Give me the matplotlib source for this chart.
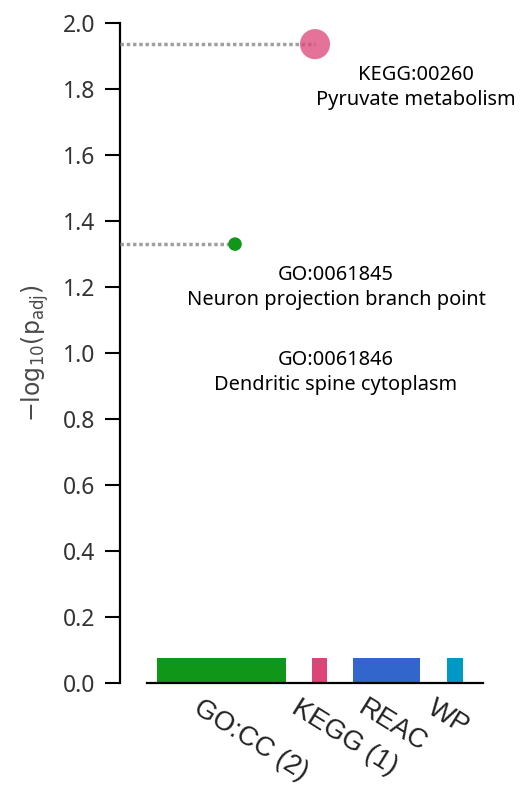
import matplotlib
matplotlib.use('Agg')
import matplotlib.pyplot as plt

# Источники и их полосы на оси X (позиции терминов)
sources = ['GO:CC', 'KEGG', 'REAC', 'WP']
source_labels = ['GO:CC (2)', 'KEGG (1)', 'REAC', 'WP']
source_colors = ['#109618', '#dd4477', '#3366cc', '#0099c6']
band_start = [10, 165, 206, 300]
band_end = [139, 180, 273, 316]
axis_end = 336
band_height = 0.076

# Значимые термины
term_ids = ['KEGG:00260', 'GO:0061845', 'GO:0061846']
term_names = ['Pyruvate metabolism', 'Neuron projection branch point', 'Dendritic spine cytoplasm']
term_source = ['KEGG', 'GO:CC', 'GO:CC']
term_x = [168, 88, 88]
term_y = [1.936, 1.33, 1.33]
term_size = [470, 95, 95]

fig = plt.figure(figsize=(5.2, 7.85), dpi=100)
ax = fig.add_axes([120 / 520, 1 - 683 / 785, 380 / 520, 660 / 785])
ax.set_xlim(-27, 353)
ax.set_ylim(0, 2.0)

# Полосы источников и базовая линия
for i in range(len(sources)):
    ax.bar((band_start[i] + band_end[i]) / 2, band_height, width=band_end[i] - band_start[i],
           color=source_colors[i], bottom=0, clip_on=False, zorder=2)
    ax.annotate(source_labels[i], xy=((band_start[i] + band_end[i]) / 2, 0),
                xytext=(-19, -12), textcoords='offset pixels', rotation=-32,
                rotation_mode='anchor', ha='left', va='top', fontsize=19.5,
                family='Liberation Sans', color='#222222', annotation_clip=False)
ax.plot([0, axis_end], [0, 0], color='black', lw=1.6, clip_on=False, zorder=3)

# Точки терминов, пунктир до оси и подписи
drawn = set()
label_shift = {}
for i in range(len(term_ids)):
    color = source_colors[sources.index(term_source[i])]
    key = (term_x[i], term_y[i])
    if key not in drawn:
        ax.plot([-27, term_x[i]], [term_y[i], term_y[i]], color='#a0a0a0', lw=2.5,
                linestyle=(0, (1, 0.8)), clip_on=False, zorder=3)
        ax.scatter(term_x[i], term_y[i], s=term_size[i], color=color, alpha=0.75 if term_size[i] > 200 else 1,
                   edgecolors='none', zorder=4)
        drawn.add(key)
    shift = label_shift.get(key, 0)
    ax.annotate(term_ids[i] + '\n' + term_names[i], xy=(term_x[i], term_y[i]),
                xytext=(101, -21 - shift), textcoords='offset pixels', ha='center', va='top',
                fontsize=14.4, family='Noto Sans', color='black', linespacing=1.3)
    label_shift[key] = shift + 85

# Оформление осей
for side in ['top', 'right', 'bottom']:
    ax.spines[side].set_visible(False)
ax.spines['left'].set_linewidth(1.6)
ax.set_xticks([])
ax.set_yticks([0.0, 0.2, 0.4, 0.6, 0.8, 1.0, 1.2, 1.4, 1.6, 1.8, 2.0])
ax.set_yticklabels(['0.0', '0.2', '0.4', '0.6', '0.8', '1.0', '1.2', '1.4', '1.6', '1.8', '2.0'])
ax.tick_params(axis='y', direction='out', length=11, width=1.5, pad=7, labelsize=16.5,
               labelcolor='#333333')
for lab in ax.get_yticklabels():
    lab.set_family('Noto Sans')
ax.set_ylabel(r'$\mathregular{-log_{10}(p_{adj})}$', fontsize=17, color='#4a4a4a', labelpad=8)

plt.savefig('out.png', dpi=100)
